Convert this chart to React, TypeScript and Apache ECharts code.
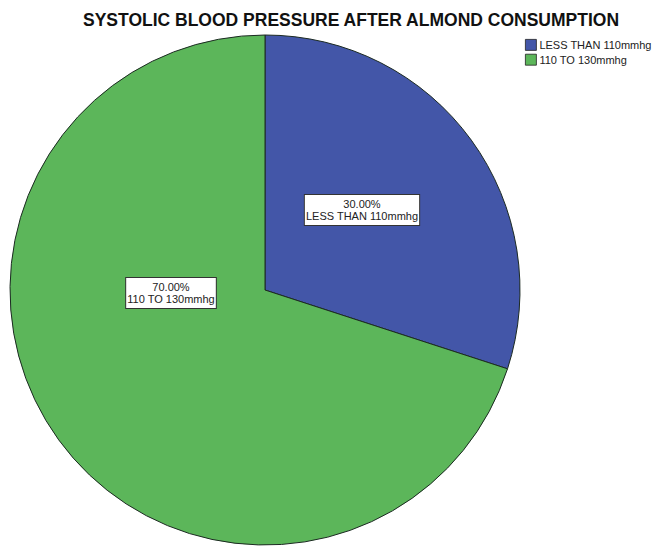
import React, { useEffect, useRef } from "react";
import * as echarts from "echarts";

const categories = ["LESS THAN 110mmhg", "110 TO 130mmhg"];
const values = [30, 70];
const colors = ["#4356a8", "#5cb65a"];
const title = "SYSTOLIC BLOOD PRESSURE AFTER ALMOND CONSUMPTION";

export default function App() {
  const ref = useRef<HTMLDivElement>(null);
  useEffect(() => {
    if (!ref.current) return;
    const chart = echarts.init(ref.current, null, { renderer: "svg" });
    const total = values.reduce((a, b) => a + b, 0);
    const labelPos = [
      [362, 210],
      [171, 293],
    ];
    chart.setOption({
      animation: false,
      backgroundColor: "#ffffff",
      title: {
        text: title,
        left: 346,
        top: 6,
        textAlign: "center",
        textStyle: {
          fontFamily: "Liberation Sans, Arial, sans-serif",
          fontSize: 17.5,
          fontWeight: "bold",
          color: "#111",
        },
      },
      legend: {
        orient: "vertical",
        left: 520,
        top: 34,
        itemWidth: 11,
        itemHeight: 11,
        itemGap: 3,
        icon: "rect",
        data: categories,
        itemStyle: { borderColor: "#222", borderWidth: 0.8 },
        textStyle: {
          fontFamily: "Liberation Sans, Arial, sans-serif",
          fontSize: 11,
          color: "#222",
          padding: [0, 0, 0, -2],
        },
      },
      series: [
        {
          type: "pie",
          center: [265, 290],
          radius: 255,
          startAngle: 90,
          clockwise: true,
          label: { show: false },
          labelLine: { show: false },
          itemStyle: { borderColor: "#1c2a22", borderWidth: 1 },
          emphasis: { disabled: true },
          data: categories.map((c, i) => ({
            name: c,
            value: values[i],
            itemStyle: { color: colors[i] },
          })),
        },
      ],
      graphic: categories.map((c, i) => ({
        type: "text",
        x: labelPos[i][0],
        y: labelPos[i][1],
        style: {
          text: ((values[i] / total) * 100).toFixed(2) + "%\n" + c,
          align: "center",
          verticalAlign: "middle",
          fontFamily: "Liberation Sans, Arial, sans-serif",
          fontSize: 11,
          lineHeight: 12,
          fill: "#222",
          backgroundColor: "#ffffff",
          borderColor: "#333",
          borderWidth: 1,
          padding: [3, 1, 3, 1],
        },
        z: 100,
      })),
    });
    return () => chart.dispose();
  }, []);
  return (
    <div
      ref={ref}
      style={{ position: "fixed", left: 0, top: 0, width: 652, height: 547 }}
    />
  );
}
